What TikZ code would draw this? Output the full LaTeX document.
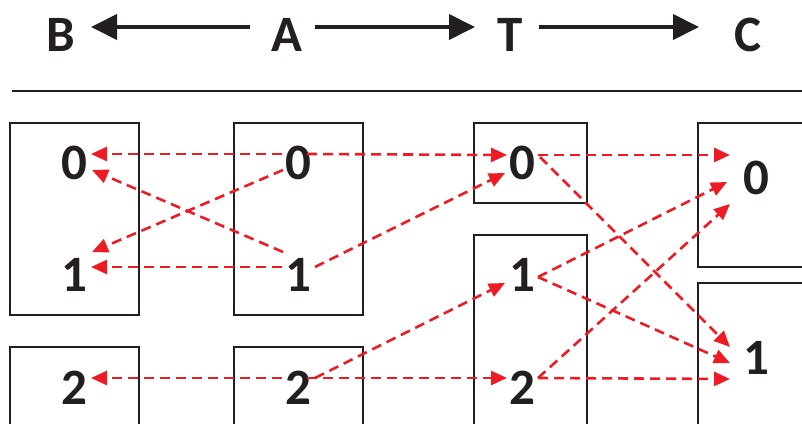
\documentclass[tikz,border=0pt]{standalone}
\usepackage{fontspec}
\setmainfont{Carlito}
\usetikzlibrary{arrows.meta}
\definecolor{ink}{RGB}{35,31,32}
\definecolor{rd}{RGB}{237,28,36}
\begin{document}
\begin{tikzpicture}[x=1pt,y=-1pt,
  lbl/.style={inner sep=0pt,font=\fontsize{51}{51}\selectfont\bfseries,text=ink},
  boxx/.style={draw=ink,line width=1.6pt},
  harrow/.style={draw=ink,line width=4pt,-{Triangle[length=26pt,width=25pt]}},
  rarrow/.style={draw=rd,line width=2.6pt,dash pattern=on 10pt off 6pt,-{Triangle[length=16pt,width=14pt]}}]
\useasboundingbox (0,0) rectangle (802,423);
\clip (0,0) rectangle (802,423);
% header
\node[lbl] (hB) at (61,35) {B};
\node[lbl] (hA) at (287,35) {A};
\node[lbl] (hT) at (510,35) {T};
\node[lbl] (hC) at (748,35) {C};
\draw[harrow] ([shift={(-37,-8)}]hA.center) -- ([shift={(30,-8)}]hB.center);
\draw[harrow] ([shift={(28,-8)}]hA.center) -- ([shift={(-35,-8)}]hT.center);
\draw[harrow] ([shift={(29,-8)}]hT.center) -- ([shift={(-49,-8)}]hC.center);
\draw[draw=ink,line width=2pt] (12,91) -- (802,91);
% boxes
\draw[boxx] (10,123) rectangle (139,315);
\draw[boxx] (234,123) rectangle (363,315);
\draw[boxx] (10,430) -- (10,347) -- (139,347) -- (139,430);
\draw[boxx] (234,430) -- (234,347) -- (363,347) -- (363,430);
\draw[boxx] (474,123) rectangle (587,203);
\draw[boxx] (474,430) -- (474,235) -- (587,235) -- (587,430);
\draw[boxx] (810,123) -- (698,123) -- (698,267) -- (810,267);
\draw[boxx] (810,283) -- (698,283) -- (698,430);
% digits
\node[lbl] (B0) at (74,163) {0};
\node[lbl] (B1) at (74,275) {1};
\node[lbl] (B2) at (74,388) {2};
\node[lbl] (A0) at (298,163) {0};
\node[lbl] (A1) at (298,275) {1};
\node[lbl] (A2) at (298,388) {2};
\node[lbl] (T0) at (522,163) {0};
\node[lbl] (T1) at (522,275) {1};
\node[lbl] (T2) at (522,388) {2};
\node[lbl] (C0) at (756,178) {0};
\node[lbl] (C1) at (756,358) {1};
% arrows
\draw[rarrow] ([shift={(-16,-9)}]A0.center) -- ([shift={(17,-9)}]B0.center);
\draw[rarrow] ([shift={(9,-9)}]A0.center) -- ([shift={(-15,-8)}]T0.center);
\draw[rarrow] ([shift={(-15,7)}]A0.center) -- ([shift={(18,-23)}]B1.center);
\draw[rarrow] ([shift={(-15,-23)}]A1.center) -- ([shift={(18,7)}]B0.center);
\draw[rarrow] ([shift={(-16,-8)}]A1.center) -- ([shift={(17,-8)}]B1.center);
\draw[rarrow] ([shift={(17,-8)}]A1.center) -- ([shift={(-17,10)}]T0.center);
\draw[rarrow] ([shift={(-16,-10)}]A2.center) -- ([shift={(17,-10)}]B2.center);
\draw[rarrow] ([shift={(9,-10)}]A2.center) -- ([shift={(-15,-10)}]T2.center);
\draw[rarrow] ([shift={(17,-10)}]A2.center) -- ([shift={(-17,8)}]T1.center);
\draw[rarrow] ([shift={(16,-8)}]T0.center) -- ([shift={(-26,-23)}]C0.center);
\draw[rarrow] ([shift={(18,-6)}]T0.center) -- ([shift={(-26,-11)}]C1.center);
\draw[rarrow] ([shift={(16,2)}]T1.center) -- ([shift={(-29,4)}]C0.center);
\draw[rarrow] ([shift={(16,2)}]T1.center) -- ([shift={(-26,5)}]C1.center);
\draw[rarrow] ([shift={(16,-10)}]T2.center) -- ([shift={(-26,26)}]C0.center);
\draw[rarrow] ([shift={(16,-10)}]T2.center) -- ([shift={(-26,21)}]C1.center);
\end{tikzpicture}
\end{document}
